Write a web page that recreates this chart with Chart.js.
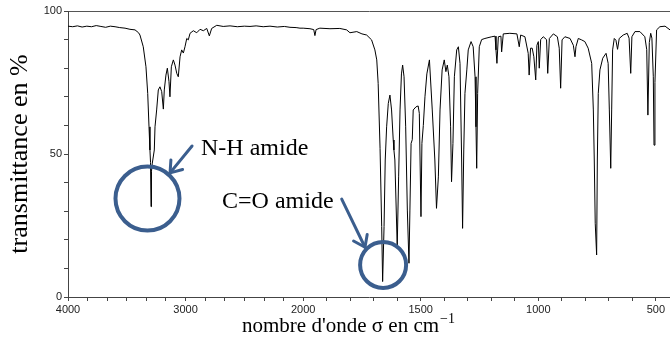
<!DOCTYPE html>
<html>
<head>
<meta charset="utf-8">
<script src="https://cdn.jsdelivr.net/npm/chart.js@4.4.1/dist/chart.umd.min.js"></script>
<style>
  html, body { margin: 0; padding: 0; background: #ffffff; }
  #wrap { width: 670px; height: 338px; position: relative; }
</style>
</head>
<body>
<div id="wrap"><canvas id="c" width="670" height="338"></canvas></div>
<script>
// ---------------- data ----------------
const WAVENUMBERS = [
  4000, 3960, 3920, 3880, 3840, 3800, 3760, 3720, 3680, 3640, 3600, 3560, 3515, 3473, 3430, 3400, 3388,
  3360, 3337, 3322, 3311, 3303, 3298, 3294, 3290, 3283, 3266, 3260, 3246, 3232, 3218, 3203, 3189, 3181,
  3167, 3155, 3141, 3133, 3121, 3104, 3090, 3075, 3062, 3047, 3033, 3019, 3005, 2990, 2977, 2962, 2934,
  2905, 2877, 2849, 2820, 2798, 2778, 2735, 2680, 2622, 2560, 2500, 2452, 2400, 2340, 2282, 2220, 2160,
  2112, 2060, 2027, 2000, 1971, 1955, 1950, 1945, 1929, 1886, 1844, 1815, 1801, 1772, 1750, 1730, 1709,
  1695, 1687, 1681, 1673, 1666, 1662, 1656, 1651, 1645, 1638, 1631, 1624, 1617, 1614, 1610, 1600, 1594,
  1588, 1582, 1577, 1571, 1564, 1557, 1550, 1546, 1541, 1536, 1532, 1520, 1511, 1506, 1499, 1495, 1489,
  1482, 1474, 1463, 1451, 1440, 1433, 1425, 1418, 1409, 1400, 1393, 1387, 1380, 1373, 1369, 1363, 1357,
  1347, 1340, 1333, 1326, 1322, 1317, 1312, 1304, 1298, 1286, 1277, 1269, 1265, 1262, 1258, 1251, 1241,
  1227, 1198, 1184, 1180, 1176, 1170, 1159, 1156, 1149, 1121, 1091, 1081, 1075, 1057, 1043, 1039, 1033,
  1026, 1019, 1011, 1006, 1000, 996, 990, 979, 965, 960, 953, 936, 919, 911, 905, 899, 887,
  865, 851, 844, 840, 830, 816, 802, 788, 773, 766, 762, 758, 752, 749, 745, 738, 726,
  712, 703, 698, 692, 688, 684, 677, 670, 663, 656, 639, 622, 614, 607, 602, 589, 568,
  547, 539, 534, 528, 522, 517, 511, 508, 504, 497, 483, 461, 440
];
const TRANSMITTANCE = [
  94.7, 94.5, 94.8, 94.4, 94.7, 94.5, 94.9, 94.6, 94.3, 94.7, 94.5, 94.2, 94.0, 93.6, 93.4, 92.4, 91.6,
  87.5, 80.5, 71.2, 59.5, 51.4, 47.0, 31.6, 44.0, 46.8, 51.4, 59.5, 65.4, 72.4, 73.5, 71.8, 65.7, 72.4,
  77.6, 80.0, 75.3, 70.0, 80.5, 82.9, 81.1, 78.2, 77.0, 84.0, 86.4, 85.3, 87.5, 90.4, 89.9, 92.2, 93.1,
  92.4, 93.6, 93.1, 93.9, 91.3, 93.9, 95.0, 94.6, 94.8, 94.5, 94.7, 94.6, 94.8, 94.5, 94.7, 94.4, 94.6,
  94.3, 94.2, 94.0, 94.0, 93.8, 93.5, 91.4, 93.5, 94.0, 93.8, 93.9, 93.4, 92.4, 92.8, 92.0, 91.6, 89.9,
  86.4, 82.9, 74.7, 52.0, 24.6, 5.4, 24.6, 47.9, 59.5, 67.7, 70.6, 65.4, 54.9, 51.4, 47.9, 17.6, 42.0,
  65.4, 78.0, 81.1, 77.0, 59.5, 30.4, 11.8, 30.4, 53.7, 55.0, 65.4, 66.5, 66.8, 64.2, 28.1, 53.7, 60.0,
  70.0, 78.0, 82.9, 65.4, 47.9, 31.0, 42.0, 65.4, 79.4, 82.9, 78.8, 81.1, 77.0, 59.5, 40.3, 53.7, 77.0,
  86.4, 87.5, 81.7, 47.9, 24.0, 51.4, 71.2, 79.4, 86.4, 89.3, 87.5, 77.0, 59.5, 45.0, 71.2, 87.5, 90.0,
  90.4, 91.0, 91.2, 86.4, 81.7, 91.0, 91.2, 85.7, 92.0, 92.2, 92.0, 87.5, 91.6, 91.0, 85.2, 77.6, 87.0,
  87.0, 84.0, 75.9, 88.0, 89.3, 80.0, 90.0, 91.0, 90.0, 78.2, 90.4, 92.0, 91.0, 87.0, 73.0, 89.9, 91.0,
  90.4, 88.0, 84.0, 87.5, 90.4, 89.9, 89.3, 87.0, 81.7, 65.4, 47.9, 25.8, 14.7, 47.9, 71.2, 79.4, 83.5,
  85.2, 81.7, 65.4, 45.0, 65.4, 86.4, 90.4, 89.8, 86.6, 90.4, 91.6, 92.2, 90.5, 78.2, 91.0, 92.8, 92.8,
  91.0, 86.5, 63.6, 89.0, 92.2, 90.5, 77.0, 53.1, 75.0, 93.4, 94.5, 94.7, 93.4
];
// axis ticks
const X_TICKS = [4000, 3833, 3667, 3500, 3333, 3167, 3000, 2833, 2667, 2500, 2333, 2167, 2000,
  1900, 1800, 1700, 1600, 1500, 1400, 1300, 1200, 1100, 1000, 900, 800, 700, 600, 500];
const X_LABELS = [4000, 3000, 2000, 1500, 1000, 500];
const Y_LABELS = [0, 50, 100];
const X_MIN = 440, X_MAX = 4000, X_BREAK = 2000;

// annotations (data units)
const ANNOT_TEXTS = ['N-H amide', 'C=O amide'];

// ---------------- IR wavenumber scale: 1000 cm-1 above 2000 = 500 cm-1 below ----------------
class IRScale extends Chart.LinearScale {
  determineDataLimits() { this.min = X_MIN; this.max = X_MAX; }
  buildTicks() { return X_TICKS.map(v => ({ value: v })); }
  _u(v) { return v >= X_BREAK ? (X_MAX - v) / 1000 : (X_MAX - X_BREAK) / 1000 + (X_BREAK - v) / 500; }
  getPixelForValue(v) { return this.left + this._u(v) / this._u(X_MIN) * this.width; }
  getValueForPixel(p) {
    const u = (p - this.left) / this.width * this._u(X_MIN);
    const ub = (X_MAX - X_BREAK) / 1000;
    return u <= ub ? X_MAX - u * 1000 : X_BREAK - (u - ub) * 500;
  }
}
IRScale.id = 'irscale';
IRScale.defaults = {};
Chart.register(IRScale);

const ANNOT_COLOR = '#3b5e8e';
const SERIF = '"Liberation Serif", "Times New Roman", serif';

const annotationPlugin = {
  id: 'irAnnotations',
  afterDraw(chart) {
    const { ctx } = chart;
    const xs = chart.scales.x, ys = chart.scales.y;
    const P = (w, t) => [xs.getPixelForValue(w), ys.getPixelForValue(t)];
    ctx.save();
    // circles
    ctx.strokeStyle = ANNOT_COLOR;
    ctx.lineWidth = 4;
    [[3324, 34.4, 32], [1660, 11.2, 23]].forEach(([w, t, r]) => {
      const [cx, cy] = P(w, t);
      ctx.beginPath(); ctx.arc(cx, cy, r, 0, Math.PI * 2); ctx.stroke();
    });
    // arrows
    ctx.lineWidth = 3;
    ctx.lineCap = 'round';
    ctx.lineJoin = 'round';
    [[[2945, 52.8], [3132, 43.4]], [[1836, 34.2], [1737, 17.4]]].forEach(([a, b]) => {
      const [x1, y1] = P(a[0], a[1]);
      const [x2, y2] = P(b[0], b[1]);
      ctx.beginPath(); ctx.moveTo(x1, y1); ctx.lineTo(x2, y2); ctx.stroke();
      const ang = Math.atan2(y1 - y2, x1 - x2);
      const L = 13, spread = 0.62;
      ctx.beginPath();
      ctx.moveTo(x2 + L * Math.cos(ang - spread), y2 + L * Math.sin(ang - spread));
      ctx.lineTo(x2, y2);
      ctx.lineTo(x2 + L * Math.cos(ang + spread), y2 + L * Math.sin(ang + spread));
      ctx.stroke();
    });
    // labels
    ctx.fillStyle = '#000';
    ctx.font = '24px ' + SERIF;
    ctx.textBaseline = 'alphabetic';
    ctx.textAlign = 'left';
    let [tx, ty] = P(2869, 49.7);
    ctx.fillText(ANNOT_TEXTS[0], tx, ty);
    [tx, ty] = P(2690, 31.1);
    ctx.fillText(ANNOT_TEXTS[1], tx, ty);
    // x-axis title with superscript
    const main = "nombre d'onde σ en cm";
    ctx.font = '21px ' + SERIF;
    const bx = 242, by = 332;
    ctx.fillText(main, bx, by);
    const mw = ctx.measureText(main).width;
    ctx.font = '14px ' + SERIF;
    ctx.fillText('\u22121', bx + mw + 1, by - 9);
    ctx.restore();
  }
};

new Chart(document.getElementById('c'), {
  type: 'line',
  data: {
    datasets: [{
      data: WAVENUMBERS.map((w, i) => ({ x: w, y: TRANSMITTANCE[i] })),
      borderColor: '#000000',
      borderWidth: 1,
      pointRadius: 0,
      tension: 0,
      fill: false
    }]
  },
  options: {
    responsive: false,
    animation: false,
    devicePixelRatio: 1,
    layout: { padding: 0 },
    plugins: { legend: { display: false }, tooltip: { enabled: false } },
    scales: {
      x: {
        type: 'irscale',
        position: 'bottom',
        afterFit: s => { s.height = 41; },
        border: { display: true, color: '#444', width: 1 },
        grid: { display: true, drawOnChartArea: false, drawTicks: true, tickLength: 4, color: '#444' },
        ticks: {
          autoSkip: false, maxRotation: 0, padding: 2, color: '#222',
          font: { family: '"Liberation Sans", Arial, sans-serif', size: 11 },
          callback: v => X_LABELS.includes(v) ? String(v) : ''
        },
        title: { display: false }
      },
      x2: {
        type: 'linear',
        position: 'top',
        afterFit: s => { s.height = 11; },
        border: { display: true, color: '#555', width: 1 },
        grid: { display: false, drawTicks: false },
        ticks: { display: false }
      },
      y: {
        type: 'linear',
        position: 'left',
        min: 0, max: 100,
        afterFit: s => { s.width = 68; },
        border: { display: true, color: '#444', width: 1 },
        grid: { display: true, drawOnChartArea: false, drawTicks: true, tickLength: 4, color: '#444' },
        ticks: {
          stepSize: 10, autoSkip: false, padding: 2, color: '#222',
          font: { family: '"Liberation Sans", Arial, sans-serif', size: 11 },
          callback: v => Y_LABELS.includes(v) ? String(v) : ''
        },
        title: {
          display: true,
          text: 'transmittance en %',
          color: '#000',
          font: { family: '"Liberation Serif", "Times New Roman", serif', size: 26 },
          padding: { top: 5, bottom: 0 }
        }
      }
    }
  },
  plugins: [annotationPlugin]
});
</script>
</body>
</html>
